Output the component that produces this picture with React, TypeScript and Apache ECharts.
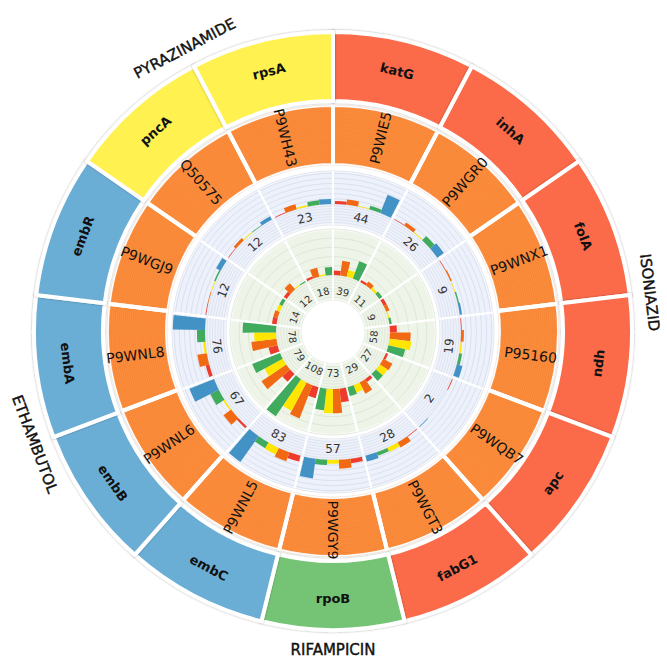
import React, { useEffect, useRef } from "react";
import * as echarts from "echarts";

// ---- data ----
const drugs = ["ISONIAZID", "RIFAMPICIN", "ETHAMBUTOL", "PYRAZINAMIDE"];
const drugGeneCounts = [6, 1, 4, 2];
const genes = ["katG", "inhA", "folA", "ndh", "apc", "fabG1", "rpoB", "embC", "embB", "embA", "embR", "pncA", "rpsA"];
const geneDrug = [0, 0, 0, 0, 0, 0, 1, 2, 2, 2, 2, 3, 3];
const proteins = ["P9WIE5", "P9WGR0", "P9WNX1", "P95160", "P9WQB7", "P9WGT3", "P9WGY9", "P9WNL5", "P9WNL6", "P9WNL8", "P9WGJ9", "Q50575", "P9WH43"];

// inner (green) ring: totals and bar values (red, orange, yellow, green)
const innerTotals = [39, 11, 9, 58, 27, 29, 73, 108, 79, 78, 14, 12, 18];
const innerRed = [4, 2, 3, 6, 2, 3, 12, 10, 9, 8, 4, 3, 2];
const innerOrange = [13, 4, 3, 18, 9, 11, 21, 31, 26, 22, 4, 7, 8];
const innerYellow = [6, 2, 1, 19, 8, 7, 21, 28, 18, 19, 3, 1, 1];
const innerGreen = [16, 3, 2, 15, 8, 8, 19, 39, 26, 29, 3, 1, 7];

// middle (blue) ring: totals and bar values (red, orange, yellow, green, blue)
const outerTotals = [44, 26, 9, 19, 2, 28, 57, 83, 67, 76, 12, 12, 23];
const outerRed = [4, 1, 1, 1, 1, 1, 6, 8, 3, 5, 1, 1, 1];
const outerOrange = [7, 5, 2, 4, 0, 8, 12, 13, 13, 13, 1, 4, 7];
const outerYellow = [1, 1, 1, 2, 0, 6, 5, 10, 2, 3, 1, 1, 2];
const outerGreen = [5, 8, 2, 4, 0, 5, 7, 9, 13, 11, 2, 1, 6];
const outerBlue = [27, 11, 3, 8, 1, 8, 27, 43, 36, 44, 7, 5, 7];

// ---- styles ----
const drugColors = ["#FB6A4A", "#74C476", "#6BAED6", "#FFF150"];
const barColors = { red: "#EF3B2C", orange: "#F16913", yellow: "#FFE600", green: "#41AB5D", blue: "#4292C6" };

export default function App() {
  const ref = useRef<HTMLDivElement>(null);
  useEffect(() => {
    const chart = echarts.init(ref.current!, null, { renderer: "svg" });
    const C = [333, 332];
    const CO = [333, 331];
    const hidden = { show: false };

    const polars = [
      { center: C, radius: [57, 103] }, // inner bars
      { center: C, radius: [32, 55] }, // inner band lines
      { center: C, radius: [128, 161] }, // middle bars
      { center: C, radius: [107, 126] }, // middle band lines
      { center: CO, radius: [166, 226] }, // protein ring texture
    ];
    const radiusMax = [40, 8, 45, 7, 30];
    const radiusInterval = [8, 1, 7, 1, 1];
    const lineColors = ["#D6DFD0", "#DAE2D5", "#D3D8E6", "#D8DCE8", "rgba(190,95,25,0.20)"];
    const splitW = [2, 2, 2, 2, 4];

    const angleAxis = polars.map((_, i) => ({
      polarIndex: i, type: "category", data: proteins, startAngle: 90, clockwise: true, boundaryGap: true,
      axisLine: hidden, axisTick: hidden, axisLabel: hidden,
      splitLine: { show: true, lineStyle: { color: "#fff", width: splitW[i] } }, z: 2,
    }));
    const radiusAxis = polars.map((_, i) => ({
      polarIndex: i, type: "value", min: 0, max: radiusMax[i], interval: radiusInterval[i],
      axisLine: hidden, axisTick: hidden, axisLabel: hidden,
      splitLine: { show: true, lineStyle: { color: lineColors[i], width: 0.7 } }, z: 1,
    }));

    const pieBase = {
      type: "pie", silent: true, startAngle: 90, clockwise: true,
      labelLine: hidden, emphasis: { disabled: true },
    };
    const clear = "rgba(0,0,0,0)";
    const equal = (names: string[]) => names.map((n) => ({ name: n, value: 1 }));

    const series: any[] = [
      { ...pieBase, center: C, z: 0, radius: [32, 103], data: equal(proteins), itemStyle: { color: "#EEF5E8", borderColor: "#fff", borderWidth: 2 }, label: hidden },
      { ...pieBase, center: C, z: 0, radius: [107, 161], data: equal(proteins), itemStyle: { color: "#EDF1FB", borderColor: "#fff", borderWidth: 2 }, label: hidden },
      { ...pieBase, center: CO, z: 0, radius: [166, 226], data: equal(proteins), itemStyle: { color: "#FD8D3C", borderColor: "#fff", borderWidth: 4 }, label: hidden },
      {
        ...pieBase, center: CO, z: 5, radius: [166, 226], data: equal(proteins), itemStyle: { color: clear },
        label: { show: true, position: "inside", rotate: "radial", formatter: "{b}", fontSize: 14, color: "#111" },
      },
      {
        ...pieBase, center: CO, z: 0, radius: [230, 299],
        data: genes.map((g, i) => ({ name: g, value: 1, itemStyle: { color: drugColors[geneDrug[i]] } })),
        itemStyle: { borderColor: "#fff", borderWidth: 4, shadowBlur: 2, shadowColor: "rgba(0,0,0,0.35)" },
        label: { show: true, position: "inside", rotate: "tangential", formatter: "{b}", fontSize: 13, fontWeight: "bold", color: "#111" },
      },
      {
        ...pieBase, center: CO, z: 5, radius: [298, 334],
        data: drugs.map((d, i) => ({ name: d, value: drugGeneCounts[i] })), itemStyle: { color: clear },
        label: {
          show: true, position: "inside", rotate: "tangential", formatter: "{b}", fontSize: 15, color: "#111",
          textBorderColor: "#111", textBorderWidth: 0.4,
        },
      },
      {
        ...pieBase, center: C, z: 5, radius: [30, 46],
        data: proteins.map((p, i) => ({ name: String(innerTotals[i]), value: 1 })), itemStyle: { color: clear },
        label: { show: true, position: "inside", rotate: "tangential", formatter: "{b}", fontSize: 10, color: "#333" },
      },
      {
        ...pieBase, center: C, z: 5, radius: [107, 121],
        data: proteins.map((p, i) => ({ name: String(outerTotals[i]), value: 1 })), itemStyle: { color: clear },
        label: { show: true, position: "inside", rotate: "tangential", formatter: "{b}", fontSize: 12, color: "#333" },
      },
    ];

    const innerSets: [number[], string][] = [
      [innerRed, barColors.red], [innerOrange, barColors.orange], [innerYellow, barColors.yellow], [innerGreen, barColors.green],
    ];
    innerSets.forEach(([d, c]) => series.push({
      type: "bar", coordinateSystem: "polar", polarIndex: 0, data: d, barGap: "0%", barCategoryGap: "6%",
      itemStyle: { color: c }, z: 3, silent: true,
    }));
    const outerSets: [number[], string][] = [
      [outerRed, barColors.red], [outerOrange, barColors.orange], [outerYellow, barColors.yellow], [outerGreen, barColors.green], [outerBlue, barColors.blue],
    ];
    outerSets.forEach(([d, c]) => series.push({
      type: "bar", coordinateSystem: "polar", polarIndex: 2, data: d, barGap: "0%", barCategoryGap: "6%",
      itemStyle: { color: c }, z: 3, silent: true,
    }));

    chart.setOption({
      animation: false,
      backgroundColor: "#fff",
      textStyle: { fontFamily: "DejaVu Sans" },
      polar: polars,
      angleAxis,
      radiusAxis,
      series,
    });
    return () => chart.dispose();
  }, []);
  return <div ref={ref} style={{ position: "absolute", left: 0, top: 0, width: 667, height: 667 }} />;
}
